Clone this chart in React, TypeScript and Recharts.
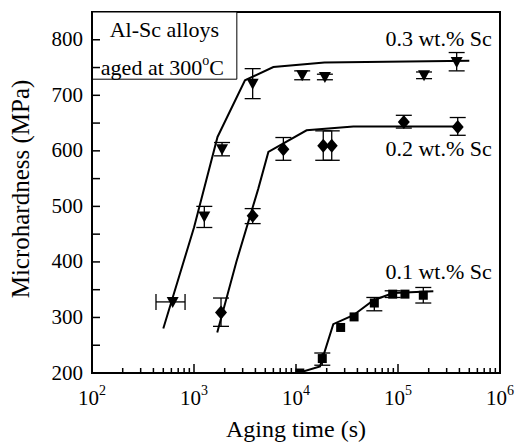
import {
  ComposedChart,
  XAxis,
  YAxis,
  Scatter,
  Line,
  ErrorBar,
  ReferenceArea,
  ReferenceDot,
} from "recharts";

const FONT = "'Liberation Serif', 'DejaVu Serif', 'Times New Roman', serif";

// 0.3 wt.% Sc (inverted triangles)
const sc3Time = [618, 1262, 1883, 3760, 11500, 19200, 180000, 376000];
const sc3Hardness = [328, 482, 603, 721, 736, 733, 736, 760];
const sc3ErrDown = [null, 20, 12, 27, 8, 5, 6, 16];
const sc3ErrUp = [null, 18, 12, 27, 8, 5, 6, 17];
const sc3TimeErrLeft = [194, null, null, null, null, null, null, null];
const sc3TimeErrRight = [199, null, null, null, null, null, null, null];
const sc3FitTime = [500, 1000, 1700, 3160, 6000, 19000, 500000];
const sc3FitHardness = [280, 462, 625, 727, 751, 759, 762];

// 0.2 wt.% Sc (diamonds)
const sc2Time = [1840, 3760, 7520, 18500, 22400, 114000, 385000];
const sc2Hardness = [309, 483, 603, 609, 609, 652, 643];
const sc2ErrDown = [25, 14, 20, 26, 26, 11, 15];
const sc2ErrUp = [26, 13, 21, 27, 27, 12, 17];
const sc2FitTime = [1690, 2600, 4270, 5360, 12700, 36500, 390000];
const sc2FitHardness = [273, 400, 532, 598, 637, 644, 644];

// 0.1 wt.% Sc (squares)
const sc1Time = [10900, 18100, 27400, 37100, 58600, 88700, 117000, 177000];
const sc1Hardness = [200, 226, 282, 301, 326, 342, 342, 340];
const sc1ErrDown = [null, 12, null, null, 14, 6, null, 14];
const sc1ErrUp = [null, 10, null, null, 10, 6, null, 14];
const sc1FitTime = [10500, 17200, 23200, 36500, 57500, 89700, 222000];
const sc1FitHardness = [200, 212, 288, 304, 331, 344, 347];

const xMajorTicks = [100, 1000, 10000, 100000, 1000000];
const xMinorFactors = [2, 3, 4, 5, 6, 7, 8, 9];
const yTicks = [200, 250, 300, 350, 400, 450, 500, 550, 600, 650, 700, 750, 800];

const xTicks: number[] = [];
xMajorTicks.forEach((m, i) => {
  xTicks.push(m);
  if (i < xMajorTicks.length - 1) xMinorFactors.forEach((f) => xTicks.push(m * f));
});

const pairErr = (lo: (number | null)[], hi: (number | null)[], i: number) =>
  lo[i] == null ? null : [lo[i] as number, hi[i] as number];

const sc3Data = sc3Time.map((t, i) => ({
  t,
  h: sc3Hardness[i],
  yErr: pairErr(sc3ErrDown, sc3ErrUp, i),
  xErr: pairErr(sc3TimeErrLeft, sc3TimeErrRight, i),
}));
const sc2Data = sc2Time.map((t, i) => ({ t, h: sc2Hardness[i], yErr: pairErr(sc2ErrDown, sc2ErrUp, i) }));
const sc1Data = sc1Time.map((t, i) => ({ t, h: sc1Hardness[i], yErr: pairErr(sc1ErrDown, sc1ErrUp, i) }));
const sc3Fit = sc3FitTime.map((t, i) => ({ t, h: sc3FitHardness[i] }));
const sc2Fit = sc2FitTime.map((t, i) => ({ t, h: sc2FitHardness[i] }));
const sc1Fit = sc1FitTime.map((t, i) => ({ t, h: sc1FitHardness[i] }));

const TriangleDown = (p: any) => (
  <path d={`M${p.cx - 6},${p.cy - 5} L${p.cx + 6},${p.cy - 5} L${p.cx},${p.cy + 6} Z`} fill="#000" />
);
const Diamond = (p: any) => (
  <path d={`M${p.cx},${p.cy - 7} L${p.cx + 6},${p.cy} L${p.cx},${p.cy + 7} L${p.cx - 6},${p.cy} Z`} fill="#000" />
);
const Square = (p: any) => <rect x={p.cx - 4.5} y={p.cy - 4.5} width={9} height={9} fill="#000" />;

const XTick = (props: any) => {
  const { x, y, payload } = props;
  const v = payload.value;
  const exp = Math.round(Math.log10(v));
  const major = Math.abs(v - Math.pow(10, exp)) < 1e-6 * v;
  return (
    <g>
      <line x1={x} x2={x} y1={y} y2={y - (major ? 9 : 5)} stroke="#000" strokeWidth={1.5} />
      {major && (
        <text x={x} y={y + 32} textAnchor="middle" fontFamily={FONT} fontSize={21} fill="#000">
          10
          <tspan fontSize={14} dy={-10}>
            {exp}
          </tspan>
        </text>
      )}
    </g>
  );
};

const YTick = (props: any) => {
  const { x, y, payload } = props;
  const v = payload.value;
  return (
    <g>
      <line x1={x} x2={x + 8} y1={y} y2={y} stroke="#000" strokeWidth={1.5} />
      {v % 100 === 0 && (
        <text x={x - 9} y={y + 6.5} textAnchor="end" fontFamily={FONT} fontSize={21} fill="#000">
          {v}
        </text>
      )}
    </g>
  );
};

const BoxLabel = (props: any) => {
  const { x, y, width } = props.viewBox;
  const cx = x + width / 2;
  return (
    <text fontFamily={FONT} fontSize={22} fill="#000" textAnchor="middle">
      <tspan x={cx} y={y + 25}>
        Al-Sc alloys
      </tspan>
      <tspan x={cx - 2} y={y + 63}>
        aged at 300
      </tspan>
      <tspan fontSize={14} dy={-10}>
        o
      </tspan>
      <tspan dy={10}>C</tspan>
    </text>
  );
};

const seriesLabel = (value: string) => ({
  value,
  position: "left" as const,
  offset: 0,
  fontFamily: FONT,
  fontSize: 22,
  fill: "#000",
});

export default function App() {
  return (
    <div style={{ position: "absolute", left: 0, top: 0, background: "#fff" }}>
      <ComposedChart width={521} height={442} margin={{ top: 12, right: 21, bottom: 0, left: 0 }}>
        <XAxis
          dataKey="t"
          type="number"
          scale="log"
          domain={[100, 1000000]}
          allowDataOverflow
          ticks={xTicks}
          interval={0}
          tick={XTick}
          tickSize={0}
          tickMargin={0}
          tickLine={false}
          height={69}
          axisLine={{ stroke: "#000", strokeWidth: 2 }}
          label={{
            value: "Aging time (s)",
            position: "insideBottom",
            offset: 5,
            fontFamily: FONT,
            fontSize: 24,
            fill: "#000",
          }}
        />
        <YAxis
          dataKey="h"
          type="number"
          domain={[200, 850]}
          allowDataOverflow
          ticks={yTicks}
          interval={0}
          tick={YTick}
          tickSize={0}
          tickMargin={0}
          tickLine={false}
          width={92}
          axisLine={{ stroke: "#000", strokeWidth: 2 }}
          label={{
            content: () => (
              <text
                transform="translate(29,189) rotate(-90)"
                textAnchor="middle"
                fontFamily={FONT}
                fontSize={25}
                fill="#000"
              >
                Microhardness (MPa)
              </text>
            ),
          }}
        />
        <ReferenceArea x1={100} x2={1000000} y1={200} y2={850} fill="none" stroke="#000" strokeWidth={2} />
        <ReferenceArea
          x1={100}
          x2={2630}
          y1={729}
          y2={850}
          fill="#fff"
          fillOpacity={1}
          stroke="#000"
          strokeWidth={1}
          label={<BoxLabel />}
        />
        <Line data={sc3Fit} dataKey="h" type="linear" stroke="#000" strokeWidth={2} dot={false} isAnimationActive={false} />
        <Line data={sc2Fit} dataKey="h" type="linear" stroke="#000" strokeWidth={2} dot={false} isAnimationActive={false} />
        <Line data={sc1Fit} dataKey="h" type="linear" stroke="#000" strokeWidth={2} dot={false} isAnimationActive={false} />
        <Scatter data={sc3Data} dataKey="h" shape={TriangleDown} isAnimationActive={false}>
          <ErrorBar dataKey="yErr" direction="y" width={8} stroke="#000" strokeWidth={1.3} />
          <ErrorBar dataKey="xErr" direction="x" width={8} stroke="#000" strokeWidth={1.3} />
        </Scatter>
        <Scatter data={sc2Data} dataKey="h" shape={Diamond} isAnimationActive={false}>
          <ErrorBar dataKey="yErr" direction="y" width={8} stroke="#000" strokeWidth={1.3} />
        </Scatter>
        <Scatter data={sc1Data} dataKey="h" shape={Square} isAnimationActive={false}>
          <ErrorBar dataKey="yErr" direction="y" width={8} stroke="#000" strokeWidth={1.3} />
        </Scatter>
        <ReferenceDot x={830000} y={803} r={0} fill="none" stroke="none" label={seriesLabel("0.3 wt.% Sc")} />
        <ReferenceDot x={830000} y={605} r={0} fill="none" stroke="none" label={seriesLabel("0.2 wt.% Sc")} />
        <ReferenceDot x={830000} y={383} r={0} fill="none" stroke="none" label={seriesLabel("0.1 wt.% Sc")} />
      </ComposedChart>
    </div>
  );
}
